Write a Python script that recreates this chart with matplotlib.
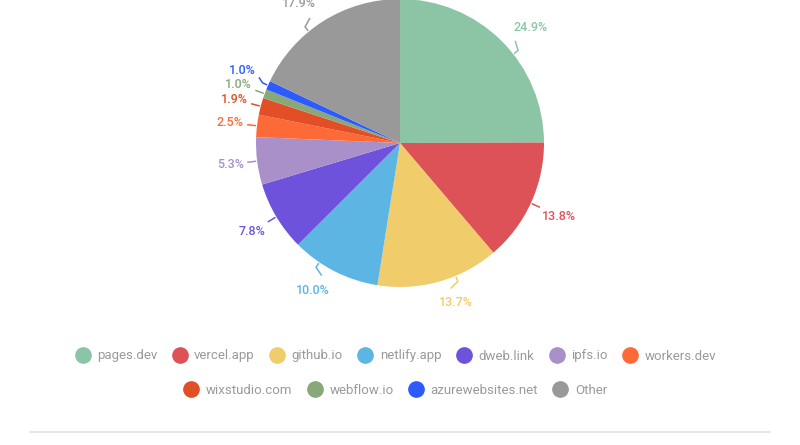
import matplotlib
matplotlib.use("Agg")
import matplotlib.pyplot as plt
from matplotlib.lines import Line2D
import numpy as np

plt.rcParams['font.family'] = ['Roboto', 'DejaVu Sans']

labels = ["pages.dev", "vercel.app", "github.io", "netlify.app", "dweb.link", "ipfs.io",
          "workers.dev", "wixstudio.com", "webflow.io", "azurewebsites.net", "Other"]
values = [24.9, 13.8, 13.7, 10.0, 7.8, 5.3, 2.5, 1.9, 1.0, 1.0, 17.9]
colors = ["#8cc5a6", "#dd5257", "#f0cc6a", "#5db5e4", "#6f52dc", "#a990c9",
          "#fe6a37", "#e24e25", "#88a87a", "#2d5bff", "#999999"]

W, H = 800, 445
fig = plt.figure(figsize=(W / 100, H / 100), dpi=100)
cx, cy, r = 400, 143, 144
ax = fig.add_axes([(cx - r) / W, (H - cy - r) / H, 2 * r / W, 2 * r / H])

wedges, _ = ax.pie(values, colors=colors, startangle=90, counterclock=False,
                   radius=1, wedgeprops=dict(linewidth=0))
ax.set_xlim(-1, 1)
ax.set_ylim(-1, 1)
ax.set_aspect('equal')
ax.axis('off')
for w in wedges:
    w.set_clip_on(False)

renderer = fig.canvas.get_renderer()
px = 1.0 / r  # one pixel in data units
gap = 13
items = []
for w, v, c in zip(wedges, values, colors):
    a = np.deg2rad((w.theta1 + w.theta2) / 2)
    la = a  # leader angle
    ta = a  # text angle
    # labels close to the vertical axis are nudged toward the horizontal
    if abs(np.cos(a)) < 0.72:
        s = np.sign(np.sin(2 * a))
        la = a - np.deg2rad(7) * s
        ta = a - np.deg2rad(3.5) * s
    t = ax.text(0, 0, f"{v:.1f}%", color=c, ha='center', va='center',
                fontsize=9, fontweight='medium', clip_on=False)
    bb = t.get_window_extent(renderer)
    tdx, tdy = np.cos(ta), np.sin(ta)
    ext = 0.5 * bb.width * abs(tdx) + 0.5 * bb.height * abs(tdy)
    dist = 1 + (gap + ext) * px
    items.append(dict(t=t, c=c, la=la, ta=ta, ext=ext,
                      x=dist * tdx, y=dist * tdy))

# avoid vertical overlaps of labels on the left side
left = sorted([it for it in items if it['x'] < 0], key=lambda it: it['y'])
for prev, cur in zip(left, left[1:]):
    if cur['y'] - prev['y'] < 14 * px:
        cur['y'] = prev['y'] + 14 * px

for it in items:
    it['t'].set_position((it['x'], it['y']))
    ldx, ldy = np.cos(it['la']), np.sin(it['la'])
    tdx, tdy = np.cos(it['ta']), np.sin(it['ta'])
    p0 = ((1 + 1 * px) * ldx, (1 + 1 * px) * ldy)
    p1 = ((1 + 6 * px) * ldx, (1 + 6 * px) * ldy)
    p2 = (it['x'] - (it['ext'] + 3) * px * tdx, it['y'] - (it['ext'] + 3) * px * tdy)
    ax.plot([p0[0], p1[0], p2[0]], [p0[1], p1[1], p2[1]], color=it['c'], lw=1.1,
            clip_on=False, solid_capstyle='butt', solid_joinstyle='round')

def make_handles(idx):
    return [Line2D([0], [0], marker='o', linestyle='none', markersize=11,
                   markerfacecolor=colors[i], markeredgecolor=colors[i]) for i in idx]

row1 = list(range(7))
row2 = list(range(7, 11))
leg_kw = dict(frameon=False, fontsize=9.5, labelcolor='#9a9a9a', handletextpad=0.6,
              columnspacing=1.2, handlelength=1.0, borderpad=0)
fig.legend(make_handles(row1), [labels[i] for i in row1], ncol=7, loc='center',
           bbox_to_anchor=(0.495, 1 - 356 / H), **leg_kw)
fig.legend(make_handles(row2), [labels[i] for i in row2], ncol=4, loc='center',
           bbox_to_anchor=(0.495, 1 - 390 / H), **leg_kw)

fig.add_artist(Line2D([30 / W, 770 / W], [1 - 432 / H, 1 - 432 / H],
                      color='#e3e3e3', lw=1.2, transform=fig.transFigure))

fig.savefig("out.png", dpi=100, facecolor='white')
